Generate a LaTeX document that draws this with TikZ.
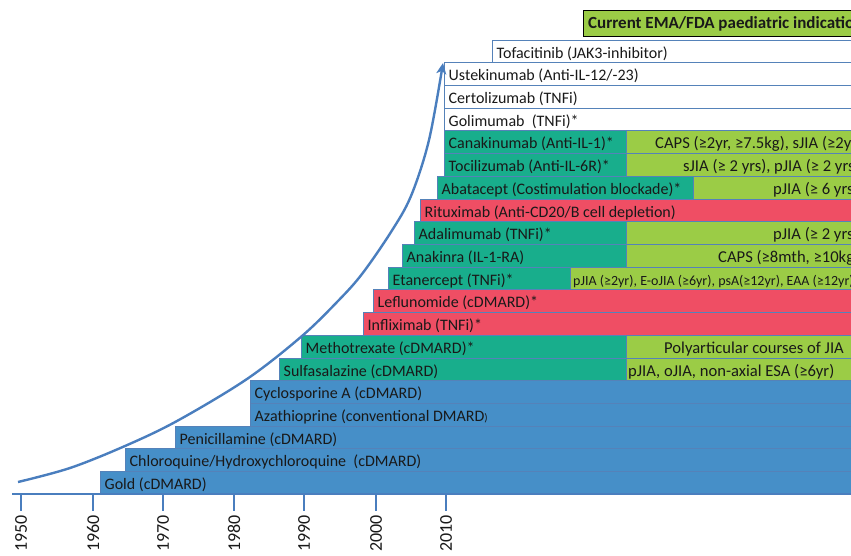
\documentclass[tikz,border=0pt]{standalone}
\usepackage{fontspec}
\setmainfont{Carlito}
\usetikzlibrary{arrows.meta}

\definecolor{barblue}{RGB}{70,143,200}
\definecolor{barteal}{RGB}{24,174,140}
\definecolor{barred}{RGB}{239,78,100}
\definecolor{indgreen}{RGB}{155,204,70}
\definecolor{barline}{RGB}{85,130,185}
\definecolor{curveblue}{RGB}{74,126,190}
\definecolor{inkdark}{RGB}{25,25,25}

\tikzset{
  lbl/.style={anchor=base west, inner sep=0pt, font=\fontsize{16}{19}\selectfont, text=inkdark},
  indlbl/.style={lbl, font=\fontsize{16.6}{19}\selectfont},
  blueband/.style={fill=barblue, draw=barline, line width=0.6pt},
  tealband/.style={fill=barteal, draw=barline, line width=0.6pt},
  redband/.style={fill=barred, draw=barline, line width=0.6pt},
  whiteband/.style={fill=white, draw=barline, line width=0.8pt},
  greenband/.style={fill=indgreen, draw=barline, line width=0.6pt},
  axisline/.style={draw=curveblue, line width=2.6pt},
  yearlbl/.style={rotate=90, anchor=east, inner sep=0pt, font=\fontsize{18}{21}\selectfont, text=inkdark},
}

% one drug row: #1 name, #2 left edge, #3 row index (0 = top), #4 band style, #5 label
\newcommand\drugrow[5]{%
  \pgfmathsetmacro\rowtop{40+22.7*#3}%
  \pgfmathsetmacro\rowbot{\rowtop+22.7}%
  \path[#4] (#2,\rowtop) rectangle (870,\rowbot);
  \node[lbl] (#1) at (#2+4.5,\rowbot-4.5) {#5};
}
% paediatric indication cell: [#1] extra label options, #2 name, #3 cell left edge,
% #4 row index, #5 label left edge, #6 label
\newcommand\indication[6][]{%
  \pgfmathsetmacro\rowtop{40+22.7*#4}%
  \pgfmathsetmacro\rowbot{\rowtop+22.7}%
  \path[greenband] (#3,\rowtop) rectangle (870,\rowbot);
  \node[indlbl,#1] (#2) at (#5,\rowbot-4.5) {#6};
}

\begin{document}
\begin{tikzpicture}[x=1pt,y=-1pt]
\useasboundingbox (0,0) rectangle (851,556);
\clip (0,0) rectangle (851,556);

% header
\path[fill=indgreen, draw=black, line width=0.8pt] (583,10) rectangle (870,36);
\node[lbl, font=\fontsize{17}{20}\selectfont\bfseries] (head) at (588,29)
  {Current EMA/FDA paediatric indication};

% drug rows, newest at the top
\drugrow{tofa}{492}{0}{whiteband}{Tofacitinib (JAK3-inhibitor)}
\drugrow{uste}{444}{1}{whiteband}{Ustekinumab (Anti-IL-12/-23)}
\drugrow{certo}{444}{2}{whiteband}{Certolizumab (TNFi)}
\drugrow{goli}{444}{3}{whiteband}{Golimumab~ (TNFi)*}
\drugrow{cana}{444}{4}{tealband}{Canakinumab (Anti-IL-1)*}
\drugrow{toci}{444}{5}{tealband}{Tocilizumab (Anti-IL-6R)*}
\drugrow{abat}{437}{6}{tealband}{Abatacept (Costimulation blockade)*}
\drugrow{ritu}{420}{7}{redband}{Rituximab (Anti-CD20/B cell depletion)}
\drugrow{adal}{414}{8}{tealband}{Adalimumab (TNFi)*}
\drugrow{anak}{402}{9}{tealband}{Anakinra (IL-1-RA)}
\drugrow{etan}{388}{10}{tealband}{Etanercept (TNFi)*}
\drugrow{lefl}{373}{11}{redband}{Leflunomide (cDMARD)*}
\drugrow{infl}{363}{12}{redband}{Infliximab (TNFi)*}
\drugrow{meth}{301}{13}{tealband}{Methotrexate (cDMARD)*}
\drugrow{sulf}{279}{14}{tealband}{Sulfasalazine (cDMARD)}
\drugrow{cycl}{250}{15}{blueband}{Cyclosporine A (cDMARD)}
\drugrow{azat}{250}{16}{blueband}{Azathioprine (conventional DMARD{\fontsize{11}{12}\selectfont)}}
\drugrow{peni}{175}{17}{blueband}{Penicillamine (cDMARD)}
\drugrow{chlo}{125}{18}{blueband}{Chloroquine/Hydroxychloroquine~ (cDMARD)}
\drugrow{gold}{100}{19}{blueband}{Gold (cDMARD)}

% approved paediatric indications
\indication{icana}{626}{4}{655}{CAPS (≥2yr, ≥7.5kg), sJIA (≥2yr)}
\indication{itoci}{626}{5}{683}{sJIA (≥ 2 yrs), pJIA (≥ 2 yrs)}
\indication{iabat}{693}{6}{773}{pJIA (≥ 6 yrs)}
\indication{iadal}{626}{8}{773}{pJIA (≥ 2 yrs)}
\indication{ianak}{626}{9}{718}{CAPS (≥8mth, ≥10kg)}
\indication[font=\fontsize{14}{16}\selectfont]{ietan}{570}{10}{573}{pJIA (≥2yr), E-oJIA (≥6yr), psA(≥12yr), EAA (≥12yr)}
\indication{imeth}{626}{13}{664}{Polyarticular courses of JIA}
\indication{isulf}{626}{14}{628}{pJIA, oJIA, non-axial ESA (≥6yr)}

% time axis
\coordinate (axstart) at (12,494);
\coordinate (axend) at (870,494);
\draw[axisline] (axstart) -- (axend);
\foreach \yr/\xx in {1950/21,1960/93,1970/163,1980/234,1990/304,2000/376,2010/446}{
  \coordinate (t\yr) at (\xx,494);
  \coordinate (b\yr) at (\xx,511);
  \draw[axisline] (t\yr) -- (b\yr);
  \node[yearlbl] (y\yr) at (\xx,515) {\yr};
}

% growth curve
\draw[draw=curveblue, line width=2.4pt, -{Stealth[length=11pt,width=10pt,inset=3pt]}]
  plot[smooth, tension=0.55] coordinates {(18,482) (70,468) (125,446) (177,421) (247,379)
  (302,336) (338,301) (362,274) (391,232) (411,196) (429,140) (443,63)};
\end{tikzpicture}
\end{document}
